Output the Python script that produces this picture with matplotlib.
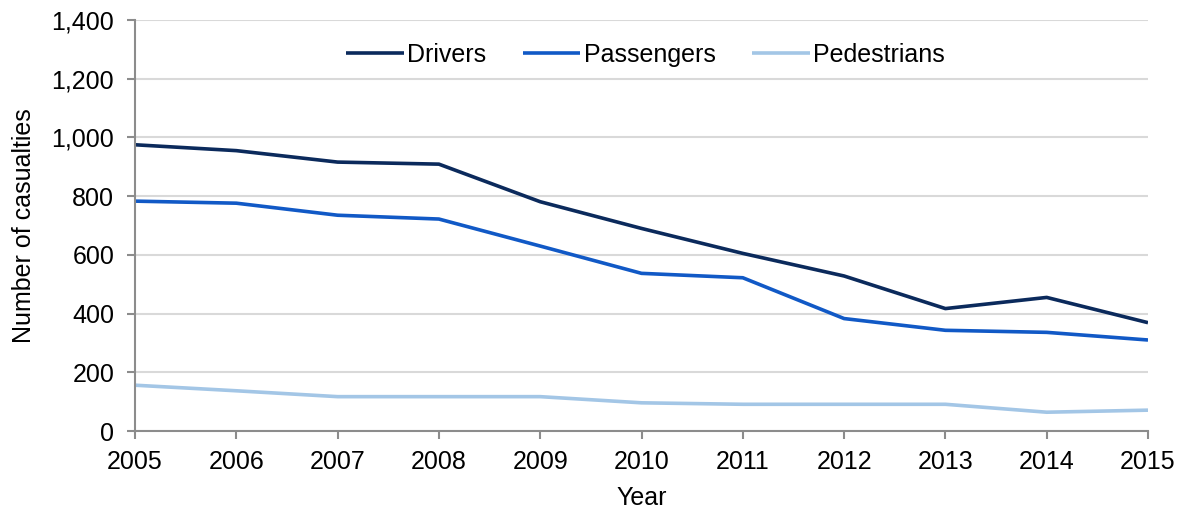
import matplotlib
matplotlib.use('Agg')
import matplotlib.pyplot as plt
from matplotlib.ticker import FuncFormatter, MultipleLocator

# Casualties per year by road user type.
years = [2005, 2006, 2007, 2008, 2009, 2010, 2011, 2012, 2013, 2014, 2015]
drivers = [975, 955, 916, 909, 781, 690, 605, 528, 417, 455, 369]
passengers = [783, 776, 735, 722, 630, 537, 522, 383, 343, 336, 310]
pedestrians = [156, 137, 117, 117, 117, 96, 91, 91, 91, 64, 71]

series_names = ['Drivers', 'Passengers', 'Pedestrians']
series_colours = ['#0b2a5c', '#1159c6', '#a3c6e6']

plt.rcParams['font.family'] = ['Liberation Sans', 'DejaVu Sans']

fig = plt.figure(figsize=(11.81, 5.11), dpi=100)
ax = fig.add_axes([135 / 1181, 80 / 511, 1013 / 1181, 411 / 511])

for values, name, colour in zip([drivers, passengers, pedestrians], series_names, series_colours):
    ax.plot(years, values, color=colour, linewidth=2.6, label=name, solid_capstyle='butt')

ax.set_xlim(2005, 2015)
ax.set_ylim(0, 1400)
ax.set_xticks(years)
ax.yaxis.set_major_locator(MultipleLocator(200))
ax.yaxis.set_major_formatter(FuncFormatter(lambda v, _: f'{int(v):,}'))

ax.grid(axis='y', color='#d9d9d9', linewidth=1.5)
ax.set_axisbelow(True)
for side in ['top', 'right']:
    ax.spines[side].set_visible(False)
for side in ['left', 'bottom']:
    ax.spines[side].set_color('#8c8c8c')
    ax.spines[side].set_linewidth(1.5)

ax.tick_params(axis='both', colors='#8c8c8c', length=6, width=1.5, labelcolor='black', labelsize=18)
ax.tick_params(axis='y', pad=9)
ax.tick_params(axis='x', pad=8)

ax.set_xlabel('Year', fontsize=18, labelpad=8)
ax.set_ylabel('Number of casualties', fontsize=18, labelpad=11)

ax.legend(loc='center', bbox_to_anchor=(0.504, 0.915), ncol=3, frameon=False,
          fontsize=18, handlelength=2.3, handletextpad=0.15, columnspacing=1.45)

fig.savefig('out.png', dpi=100)
